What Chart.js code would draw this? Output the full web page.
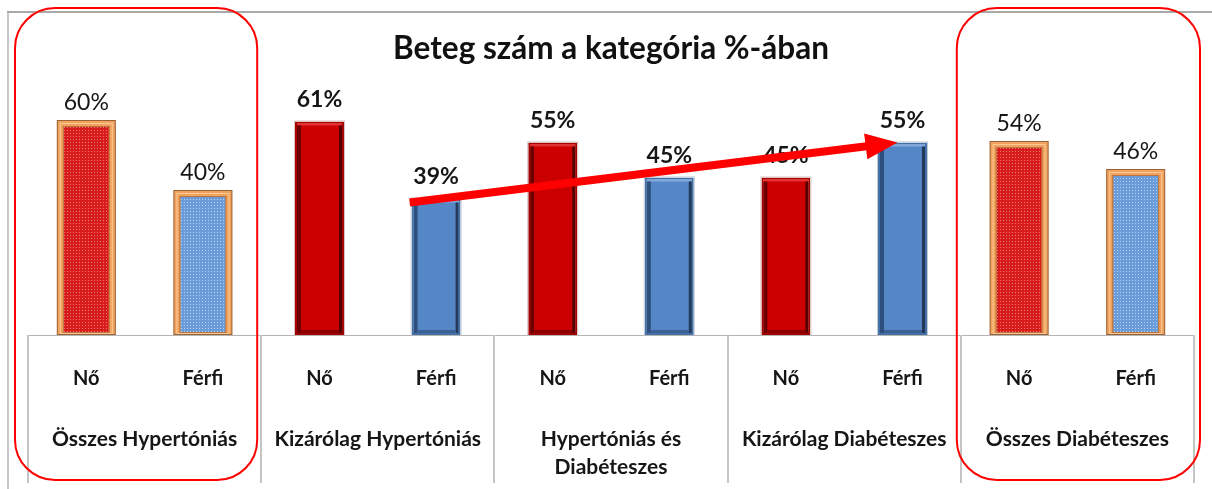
<!DOCTYPE html>
<html>
<head>
<meta charset="utf-8">
<script src="https://cdn.jsdelivr.net/npm/chart.js@4.4.1/dist/chart.umd.min.js"></script>
<style>
html,body{margin:0;padding:0;background:#fff;}
#wrap{width:1212px;height:489px;}
</style>
</head>
<body>
<div id="wrap"><canvas id="chart" width="1212" height="489"></canvas></div>
<script>
// data
const categories = ['Összes Hypertóniás', 'Kizárólag Hypertóniás', ['Hypertóniás és', 'Diabéteszes'], 'Kizárólag Diabéteszes', 'Összes Diabéteszes'];
const genders = ['Nő', 'Férfi'];
const noValues = [60, 61, 55, 45, 54];
const ferfiValues = [40, 39, 45, 55, 46];
const boxedGroups = [0, 4];
const arrowFrom = 1, arrowTo = 3; // Férfi bars joined by the red arrow
const titleText = 'Beteg szám a kategória %-ában';

const FONT = 'Lato';
const isBoxed = i => boxedGroups.includes(i);

// bevel shades per series: halo, left, right, top, bottom
const bevel = [
  {halo: '#d9c2c2', left: '#6e0000', right: '#560000', top: '#e43030', bottom: '#8a0000'},
  {halo: '#c2cad6', left: '#2f4f7c', right: '#22395c', top: '#84aae0', bottom: '#3b6094'}
];

function dotPattern(ctx, base, dot){
  const c = document.createElement('canvas');
  c.width = 3; c.height = 3;
  const g = c.getContext('2d');
  g.fillStyle = base; g.fillRect(0, 0, 3, 3);
  g.fillStyle = dot; g.fillRect(1, 1, 1, 1);
  return ctx.createPattern(c, 'repeat');
}

const decor = {
  id: 'decor',
  beforeDraw(chart){
    const ctx = chart.ctx;
    ctx.save();
    ctx.fillStyle = '#fff';
    ctx.fillRect(0, 0, chart.width, chart.height);
    ctx.fillStyle = '#c8c8c8';
    ctx.fillRect(7, 12, 2, chart.height - 12);
    ctx.fillStyle = '#a9a9a9';
    ctx.fillRect(7, 11, chart.width - 7, 2);
    ctx.restore();
  },
  afterDatasetsDraw(chart){
    const ctx = chart.ctx;
    ctx.save();
    chart.data.datasets.forEach((ds, d) => {
      chart.getDatasetMeta(d).data.forEach((el, i) => {
        const {x, y, base, width} = el.getProps(['x', 'y', 'base', 'width'], true);
        const l = x - width / 2, h = base - y;
        ctx.lineWidth = 1;
        if (isBoxed(i)) {
          ctx.strokeStyle = '#9a6236';
          ctx.strokeRect(l - 4.5, y - 4.5, width + 9, h + 4);
          ctx.strokeStyle = '#fbc793';
          ctx.strokeRect(l - 1.5, y - 1.5, width + 3, h);
          ctx.strokeStyle = '#b8743c';
          ctx.strokeRect(l + 1.5, y + 1.5, width - 3, h - 4);
        } else {
          const s = bevel[d];
          ctx.strokeStyle = s.halo;
          ctx.strokeRect(l - 0.5, y - 0.5, width + 1, h + 1);
          ctx.fillStyle = s.top;
          ctx.fillRect(l + 2, y + 2, width - 4, 2);
          ctx.fillStyle = s.left;
          ctx.fillRect(l + 2, y + 4, 4, h - 6);
          ctx.fillStyle = s.right;
          ctx.fillRect(l + width - 5, y + 4, 3, h - 6);
          ctx.fillStyle = s.bottom;
          ctx.fillRect(l + 6, base - 5, width - 11, 3);
        }
      });
    });
    ctx.restore();
  },
  afterDraw(chart){
    const ctx = chart.ctx;
    const area = chart.chartArea;
    const xs = chart.scales.x;
    const half = (xs.getPixelForValue(1) - xs.getPixelForValue(0)) / 2;
    ctx.save();
    // category table lines
    ctx.fillStyle = '#b4b4b4';
    ctx.fillRect(area.left, area.bottom, area.right - area.left, 1);
    ctx.fillStyle = '#c4c4c4';
    for (let k = 0; k <= categories.length; k++) {
      const px = k < categories.length ? xs.getPixelForValue(k) - half : xs.getPixelForValue(k - 1) + half;
      ctx.fillRect(Math.round(px) - 1, area.bottom, 2, 483 - area.bottom);
    }
    // value labels
    ctx.fillStyle = '#161616';
    ctx.textAlign = 'center';
    ctx.textBaseline = 'alphabetic';
    chart.data.datasets.forEach((ds, d) => {
      chart.getDatasetMeta(d).data.forEach((el, i) => {
        ctx.font = (isBoxed(i) ? 'normal' : 'bold') + ' 23px ' + FONT;
        ctx.fillText(ds.data[i] + '%', el.x, el.y - 15);
      });
    });
    // arrow between the Férfi bars
    const m = chart.getDatasetMeta(1);
    const a = m.data[arrowFrom], b = m.data[arrowTo];
    const x1 = a.x - a.width / 2 - 2, y1 = a.y + 4;
    const x2 = b.x - 5, y2 = b.y;
    const ang = Math.atan2(y2 - y1, x2 - x1);
    const headL = 32, headW = 13;
    const bx = x2 - headL * Math.cos(ang), by = y2 - headL * Math.sin(ang);
    ctx.strokeStyle = '#ff0000'; ctx.fillStyle = '#ff0000';
    ctx.lineWidth = 8; ctx.lineCap = 'butt';
    ctx.beginPath(); ctx.moveTo(x1, y1); ctx.lineTo(bx + Math.cos(ang), by + Math.sin(ang)); ctx.stroke();
    ctx.beginPath();
    ctx.moveTo(x2, y2);
    ctx.lineTo(bx + headW * Math.sin(ang), by - headW * Math.cos(ang));
    ctx.lineTo(bx - headW * Math.sin(ang), by + headW * Math.cos(ang));
    ctx.closePath(); ctx.fill();
    // red rounded frames round the summary groups
    const pads = {0: [-13, -4], 4: [-4, 6]};
    ctx.lineWidth = 2;
    boxedGroups.forEach(g => {
      const left = xs.getPixelForValue(g) - half + pads[g][0];
      const right = xs.getPixelForValue(g) + half + pads[g][1];
      ctx.beginPath();
      ctx.roundRect(left, 8, right - left, 472, 40);
      ctx.stroke();
    });
    ctx.restore();
  }
};

function build(){
  const canvas = document.getElementById('chart');
  const c2d = canvas.getContext('2d');
  const fills = [
    {plain: '#cc0000', boxed: dotPattern(c2d, '#d81c1c', '#f07a7a'), edge: '#a30000'},
    {plain: '#5586c6', boxed: dotPattern(c2d, '#6b9cda', '#b8d2f2'), edge: '#4470a8'}
  ];
  const series = [noValues, ferfiValues];
  new Chart(canvas, {
    type: 'bar',
    data: {
      labels: categories,
      datasets: series.map((vals, d) => ({
        label: genders[d],
        data: vals,
        xAxisID: 'x',
        yAxisID: 'y',
        backgroundColor: c => isBoxed(c.dataIndex) ? fills[d].boxed : fills[d].plain,
        borderColor: c => isBoxed(c.dataIndex) ? '#f0a35e' : fills[d].edge,
        borderWidth: c => isBoxed(c.dataIndex) ? 7 : 2,
        borderSkipped: false,
        inflateAmount: c => isBoxed(c.dataIndex) ? 5 : 0,
        categoryPercentage: 1.0,
        barPercentage: 0.42,
        clip: {left: 20, right: 20, top: 40, bottom: 0}
      }))
    },
    options: {
      responsive: false,
      animation: false,
      devicePixelRatio: 1,
      layout: {padding: {left: 28, right: 18, top: 0, bottom: 0}},
      plugins: {
        legend: {display: false},
        tooltip: {enabled: false},
        title: {
          display: true,
          text: titleText,
          color: '#111',
          font: {family: FONT, size: 31.5, weight: 'bold', lineHeight: 1.2},
          padding: {top: 30, bottom: 22.2}
        }
      },
      scales: {
        y: {display: false, min: 0, max: 70},
        x: {
          type: 'category',
          position: 'bottom',
          weight: 1,
          offset: true,
          grid: {display: false},
          border: {display: false},
          ticks: {color: '#161616', font: {family: FONT, size: 21, weight: 'bold', lineHeight: 28 / 21}, padding: 20, maxRotation: 0, autoSkip: false},
          afterFit: s => { s.height = 92; }
        },
        x2: {
          type: 'category',
          labels: categories.flatMap(() => genders),
          position: 'bottom',
          weight: 0,
          offset: true,
          grid: {display: false},
          border: {display: false},
          ticks: {color: '#161616', font: {family: FONT, size: 20, weight: 'bold', lineHeight: 1.2}, padding: 24, maxRotation: 0, autoSkip: false},
          afterFit: s => { s.height = 62; }
        }
      }
    },
    plugins: [decor]
  });
}

Promise.all([
  document.fonts.load('bold 20px Lato'),
  document.fonts.load('20px Lato')
]).then(build, build);
</script>
</body>
</html>
